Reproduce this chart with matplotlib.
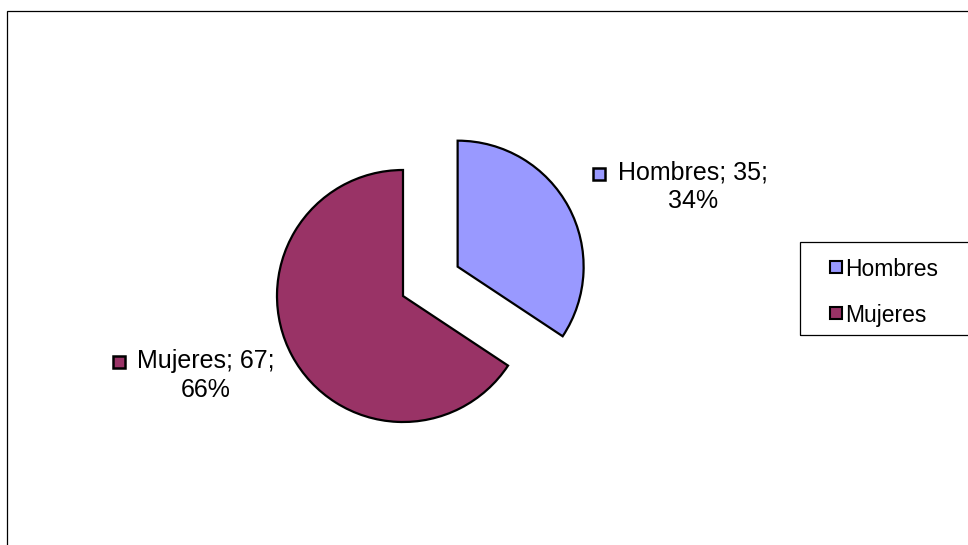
import matplotlib
matplotlib.use("Agg")
import matplotlib.pyplot as plt
from matplotlib.patches import Rectangle

plt.rcParams['font.family'] = ['Liberation Sans', 'DejaVu Sans']

# data
labels = ["Hombres", "Mujeres"]
values = [35, 67]
colors = ["#9999FF", "#993366"]
explode = [62, 0]   # pie() takes explode in data units here (pixels)

W, H = 968, 545
FS = 18

fig = plt.figure(figsize=(W / 100, H / 100), dpi=100)
ax = fig.add_axes([0, 0, 1, 1])

# pie, in pixel coords (y up)
wedges, _ = ax.pie(values, colors=colors, explode=explode, startangle=90,
                   counterclock=False, center=(403, H - 296), radius=126,
                   wedgeprops=dict(edgecolor="black", linewidth=1.6))
ax.set_xlim(0, W)
ax.set_ylim(0, H)
ax.set_aspect("auto")
ax.axis("off")

# outer frame (right/bottom edges fall outside the picture)
ax.add_patch(Rectangle((7, -20), 1000, H - 11 + 20, fill=False,
                       edgecolor="black", linewidth=0.9, clip_on=False))

# data labels: "name; value;\npct%"  (y = baseline of last line)
total = sum(values)
label_pos = [(693, 208, 599, 174), (206, 397, 119, 362)]
for name, v, c, (tx, ty, mx, my) in zip(labels, values, colors, label_pos):
    pct = round(100 * v / total)
    ax.text(tx, H - ty, f"{name}; {v};\n{pct}%", ha="center", va="baseline",
            multialignment="center", fontsize=FS, linespacing=1.25)
    ax.plot(mx, H - my, marker="s", markersize=8.5, markerfacecolor=c,
            markeredgecolor="black", markeredgewidth=1.8)

# legend box, drawn by hand (runs off the right edge)
ax.add_patch(Rectangle((800, H - 335), 300, 93, fill=False,
                       edgecolor="black", linewidth=0.9, clip_on=False))
for i, (name, c) in enumerate(zip(labels, colors)):
    y = 267 + 46 * i
    ax.plot(836, H - y, marker="s", markersize=8, markerfacecolor=c,
            markeredgecolor="black", markeredgewidth=1.5)
    ax.text(845, H - y, name, ha="left", va="center_baseline", fontsize=16.5)

fig.savefig("out.png", dpi=100)
